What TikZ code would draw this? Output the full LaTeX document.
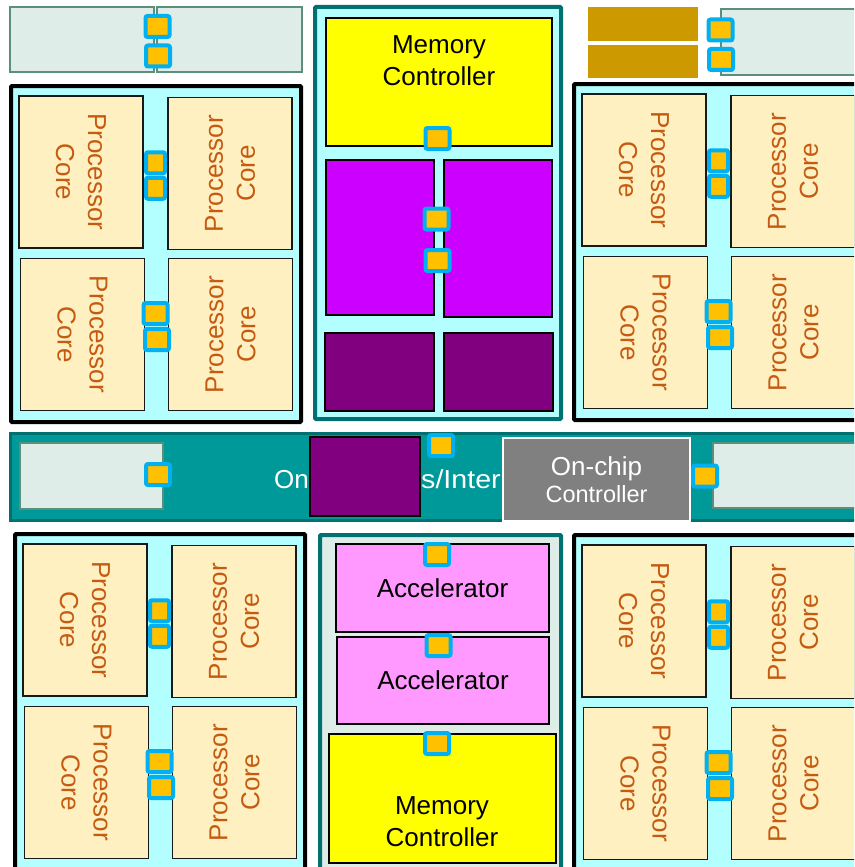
\documentclass[tikz,border=0pt]{standalone}
\usepackage{fontspec}
\setmainfont{Liberation Sans}
\usepackage{xcolor}
\usepackage{tikz}
\usetikzlibrary{positioning}

\definecolor{tilebg}{HTML}{B3FFFF}
\definecolor{corefill}{HTML}{FFF0C1}
\definecolor{coretext}{HTML}{C55A11}
\definecolor{padfill}{HTML}{DFEDE8}
\definecolor{paddraw}{HTML}{5B8F7C}
\definecolor{goldpad}{HTML}{CC9900}
\definecolor{busfill}{HTML}{009999}
\definecolor{tealdark}{HTML}{007070}
\definecolor{portcyan}{HTML}{00B0F0}
\definecolor{portorange}{HTML}{FFC000}
\definecolor{memyellow}{HTML}{FFFF00}
\definecolor{cachemag}{HTML}{CC00FF}
\definecolor{darkpurple}{HTML}{800080}
\definecolor{accpink}{HTML}{FF99FF}
\definecolor{ctrlgray}{HTML}{808080}

\tikzset{
 tile/.style={draw=black,line width=4pt,fill=tilebg,rounded corners=1pt},
 tealblk/.style={draw=tealdark,line width=4pt,rounded corners=1pt},
 corebox/.style={draw=black!90,line width=1.5pt,fill=corefill,minimum width=124pt,minimum height=152pt,inner sep=0pt},
 coretxt/.style={text=coretext,align=center,font=\fontsize{26}{32}\selectfont},
 blocktxt/.style={align=center,font=\fontsize{26}{32}\selectfont},
 bustxt/.style={anchor=base west,text=white,inner sep=0pt,font=\fontsize{26}{30}\selectfont},
 unit/.style={draw=black,line width=1.5pt,inner sep=0pt},
 pad/.style={draw=paddraw,line width=1.2pt,fill=padfill},
 portsq/.style={draw=portcyan,fill=portorange,line width=4pt,rounded corners=2pt,minimum width=24pt,minimum height=21pt,inner sep=0pt},
 slimport/.style={portsq,minimum width=19pt}
}

\begin{document}
\begin{tikzpicture}[x=1pt,y=-1pt]
\useasboundingbox (0,0) rectangle (854,867);
\clip (0,0) rectangle (854,867);

% four processor tiles
\foreach \q/\ox/\oy in {qa/9/84,qb/572/82,qc/13/532,qd/572/533}{
\begin{scope}[shift={(\ox,\oy)}]
\draw[tile] (2,2) rectangle (292,338);
\node[corebox] (\q-c1) at (72,88) {};
\node[corebox] (\q-c2) at (221,89.5) {};
\node[corebox] (\q-c3) at (73.5,250.5) {};
\node[corebox] (\q-c4) at (221.5,250.5) {};
\node[coretxt,rotate=-90] (\q-t1) at (\q-c1) {Processor\\Core};
\node[coretxt,rotate=90] (\q-t2) at (\q-c2) {Processor\\Core};
\node[coretxt,rotate=-90] (\q-t3) at (\q-c3) {Processor\\Core};
\node[coretxt,rotate=90] (\q-t4) at (\q-c4) {Processor\\Core};
\node[slimport] (\q-p1) at (146.5,78.75) {};
\node[slimport] (\q-p2) at (146.5,104.25) {};
\node[portsq] (\q-p3) at (146.5,229.5) {};
\node[portsq] (\q-p4) at (148,255.5) {};
\end{scope}
}

% top pads
\draw[pad] (10,7) rectangle (154,72);
\draw[pad] (157,7) rectangle (302,72);
\fill[goldpad] (588,7) rectangle (698,41);
\fill[goldpad] (588,45) rectangle (698,78);
\draw[pad] (721,9) rectangle (880,75);
\node[portsq] (tp1) at (157.5,26.5) {};
\node[portsq] (tp2) at (158,56) {};
\node[portsq] (tp3) at (720.5,30) {};
\node[portsq] (tp4) at (721,59.5) {};

% memory/cache block
\draw[tealblk,fill=tilebg] (315,7) rectangle (561,419);
\node[unit,fill=memyellow,minimum width=226pt,minimum height=128pt] (mc1) at (439,82) {};
\node[blocktxt] (mc1-t) at (439,61) {Memory\\Controller};
\node[unit,fill=cachemag,minimum width=108pt,minimum height=155pt] (ca1) at (380,237.5) {};
\node[unit,fill=cachemag,minimum width=108pt,minimum height=157pt] (ca2) at (498,238.5) {};
\node[unit,fill=darkpurple,minimum width=109pt,minimum height=78pt] (ca3) at (379.5,372) {};
\node[unit,fill=darkpurple,minimum width=109pt,minimum height=78pt] (ca4) at (498.5,372) {};
\node[portsq] (mp1) at (437.5,138.5) {};
\node[portsq] (mp2) at (436.5,219) {};
\node[portsq] (mp3) at (437.5,260.5) {};

% bus
\draw[line width=3.5pt,draw=tealdark,fill=busfill] (10.5,433.5) rectangle (880,520.5);
\node[bustxt] (bus-t1) at (274,488) {On};
\node[bustxt,xscale=1.1] (bus-t2) at (421,488) {s/Inter};
\draw[pad] (20,443) rectangle (163,509);
\draw[pad] (713,443) rectangle (880,508);
\node[unit,fill=darkpurple,minimum width=110pt,minimum height=79pt] (bus-b) at (365,476.5) {};
\node[draw=white,line width=1.5pt,fill=ctrlgray,text=white,align=center,minimum width=187pt,minimum height=83pt] (occ) at (596.5,479.5)
 {\fontsize{26}{28}\selectfont On-chip\\[4pt]\fontsize{23.5}{28}\selectfont Controller};
\node[portsq] (bp1) at (158,474.5) {};
\node[portsq] (bp2) at (441,445.5) {};
\node[portsq] (bp3) at (705,476) {};

% accelerator block
\draw[tealblk,fill=padfill] (320,535) rectangle (561,885);
\node[unit,fill=accpink,minimum width=213pt,minimum height=88pt,blocktxt] (acc1) at (442.5,588) {Accelerator};
\node[unit,fill=accpink,minimum width=212pt,minimum height=87pt,blocktxt] (acc2) at (443,680.5) {Accelerator};
\node[unit,fill=memyellow,minimum width=227pt,minimum height=129pt] (mc2) at (442.5,798.5) {};
\node[blocktxt] (mc2-t) at (442,822) {Memory\\Controller};
\node[portsq] (ap1) at (437,554.5) {};
\node[portsq] (ap2) at (438.5,645.5) {};
\node[portsq] (ap3) at (437,743.5) {};
\end{tikzpicture}
\end{document}
